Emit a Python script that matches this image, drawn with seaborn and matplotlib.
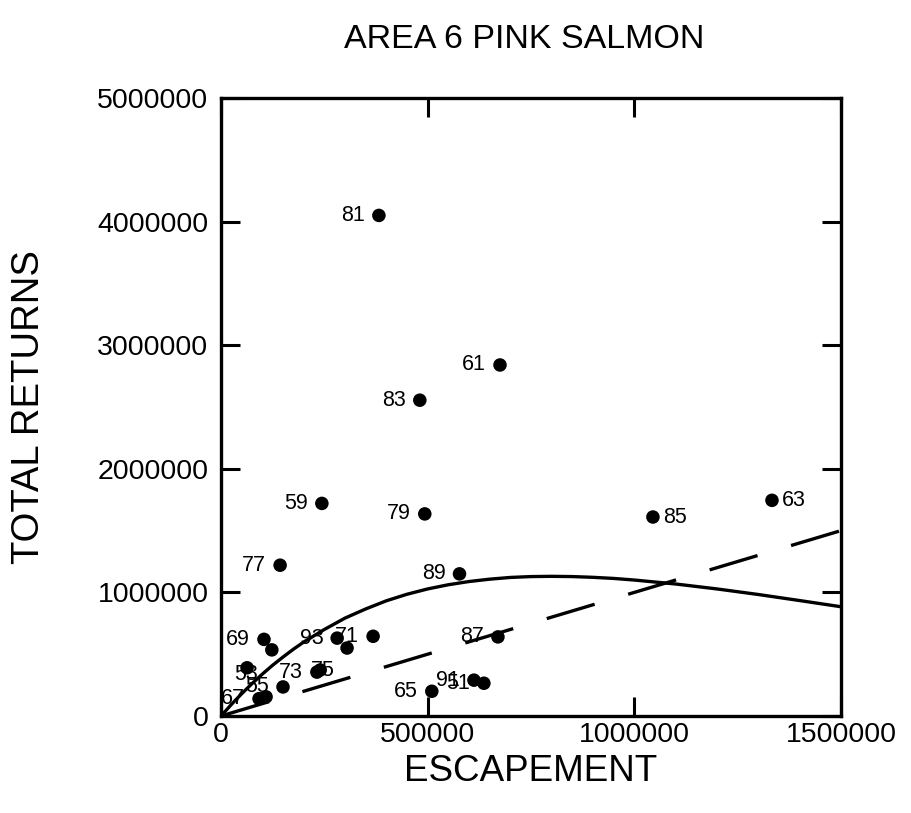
import matplotlib
matplotlib.use("Agg")
import matplotlib.pyplot as plt
import seaborn as sns
import pandas as pd

# ---- data ----
years = ["81", "61", "83", "59", "79", "77", "89", "85", "63", "69", "", "93", "",
         "71", "87", "65", "91", "51", "53", "55", "73", "75", "67", ""]
escapement = [382000, 675000, 481000, 244000, 493000, 143000, 577000, 1045000, 1333000,
              104000, 123000, 281000, 305000, 368000, 670000, 510000, 612000, 636000,
              63000, 150000, 232000, 240000, 92000, 109000]
returns = [4050000, 2840000, 2555000, 1720000, 1635000, 1220000, 1150000, 1610000, 1745000,
           620000, 535000, 630000, 550000, 645000, 640000, 200000, 290000, 265000,
           390000, 235000, 355000, 372000, 140000, 155000]

# fitted stock-recruit curve
curve_S = [0, 25000, 50000, 75000, 100000, 125000, 150000, 175000, 200000, 250000,
           300000, 350000, 400000, 450000, 500000, 550000, 600000, 650000, 700000,
           750000, 800000, 850000, 900000, 950000, 1000000, 1100000, 1200000, 1300000,
           1400000, 1500000]
curve_R = [0, 93000, 180000, 262000, 339000, 411000, 477000, 540000, 598000, 700000,
           792000, 866000, 932000, 985000, 1028000, 1062000, 1088000, 1107000, 1121000,
           1128000, 1130000, 1128000, 1122000, 1113000, 1100000, 1068000, 1028000, 983000,
           934000, 884000]

# replacement line
line_S = [0, 1500000]
line_R = [0, 1500000]

x_ticks = [0, 500000, 1000000, 1500000]
x_ticklabels = ["0", "500000", "1000000", "1500000"]
y_ticks = [0, 1000000, 2000000, 3000000, 4000000, 5000000]
y_ticklabels = ["0", "1000000", "2000000", "3000000", "4000000", "5000000"]

title = "AREA 6 PINK SALMON"
x_label = "ESCAPEMENT"
y_label = "TOTAL RETURNS"

# label placement (style): default left of the dot
label_style = {
    "85": dict(xytext=(7, 0), ha="left"),
    "63": dict(xytext=(7, 0), ha="left"),
    "53": dict(xytext=(-1, -5), ha="center"),
    "75": dict(xytext=(2, 0), ha="center"),
}

sns.set_theme(style="ticks")
plt.rcParams["font.family"] = ["Liberation Sans", "DejaVu Sans"]
plt.rcParams["text.color"] = "black"
plt.rcParams["axes.labelcolor"] = "black"

fig = plt.figure(figsize=(9.12, 8.13), dpi=100)
ax = fig.add_axes([221 / 912, 1 - 716 / 813, 620 / 912, 618 / 813])

df = pd.DataFrame({"S": escapement, "R": returns, "year": years})
cdf = pd.DataFrame({"S": curve_S, "R": curve_R})
ldf = pd.DataFrame({"S": line_S, "R": line_R})

sns.lineplot(data=cdf, x="S", y="R", ax=ax, color="black", lw=2.4, sort=False,
             estimator=None)
sns.lineplot(data=ldf, x="S", y="R", ax=ax, color="black", lw=2.4, sort=False,
             estimator=None, linestyle=(0, (15, 10.5)))
sns.scatterplot(data=df, x="S", y="R", ax=ax, color="black", s=95, edgecolor="none",
                zorder=3, clip_on=False)

for s, r, y in zip(escapement, returns, years):
    if not y:
        continue
    st = label_style.get(y, dict(xytext=(-10, 0), ha="right"))
    ax.annotate(y, (s, r), textcoords="offset points", xytext=st["xytext"],
                ha=st["ha"], va="center", fontsize=15.5, color="black")

ax.set_xlim(0, 1500000)
ax.set_ylim(0, 5000000)
ax.set_xticks(x_ticks)
ax.set_xticklabels(x_ticklabels)
ax.set_yticks(y_ticks)
ax.set_yticklabels(y_ticklabels)
ax.tick_params(axis="both", direction="in", length=13.5, width=2.2, colors="black",
               labelcolor="black", top=True, right=True, labelsize=20.5)
ax.tick_params(axis="x", pad=4)
ax.tick_params(axis="y", pad=9)
for sp in ax.spines.values():
    sp.set_visible(True)
    sp.set_linewidth(2.4)
    sp.set_color("black")

ax.set_xlabel(x_label, fontsize=26.5, color="black")
ax.set_ylabel(y_label, fontsize=27.5, color="black")
ax.xaxis.set_label_coords(0.5, -0.062)
ax.yaxis.set_label_coords(-0.28, 0.5)

fig.text(524 / 912, 1 - 40 / 813, title, ha="center", va="center", fontsize=24.5,
         color="black")

fig.savefig("out.png", dpi=100, facecolor="white")
